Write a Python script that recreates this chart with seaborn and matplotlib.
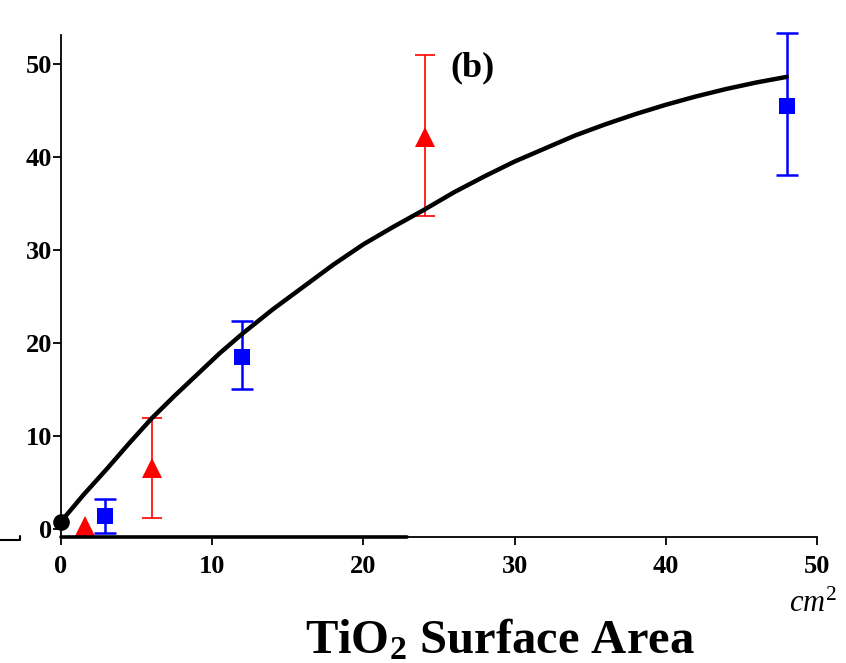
import numpy as np
import pandas as pd
import matplotlib
matplotlib.use("Agg")
import matplotlib.pyplot as plt
import seaborn as sns
from matplotlib.lines import Line2D

# fitted curve, points
curve_x = [0, 1.5, 3, 4.5, 6, 7.5, 9, 10.5, 12, 14, 16, 18, 20, 22, 24,
           26, 28, 30, 32, 34, 36, 38, 40, 42, 44, 46, 48]
curve_y = [0.8, 3.7, 6.4, 9.2, 11.9, 14.3, 16.6, 18.9, 21.0, 23.6, 26.0, 28.4, 30.6, 32.5, 34.3,
           36.2, 37.9, 39.5, 40.9, 42.3, 43.5, 44.6, 45.6, 46.5, 47.3, 48.0, 48.6]

# origin point
origin_x = [0]
origin_y = [0.78]

# red triangles (first one has no visible error bar)
red_x = [1.6, 6.0, 24.1]
red_y = [0.33, 6.6, 42.1]
red_lo = [None, 1.2, 33.6]
red_hi = [None, 11.9, 50.9]

# blue squares
blue_x = [2.9, 12.0, 48.0]
blue_y = [1.4, 18.5, 45.5]
blue_lo = [-0.4, 15.1, 38.1]
blue_hi = [3.2, 22.4, 53.3]

xticks = [0, 10, 20, 30, 40, 50]
yticks = [0, 10, 20, 30, 40, 50]

sns.set_style("ticks")
plt.rcParams['font.family'] = ['Liberation Serif', 'DejaVu Serif']
plt.rcParams['font.weight'] = 'bold'
plt.rcParams['text.color'] = 'black'
plt.rcParams['xtick.color'] = 'black'
plt.rcParams['ytick.color'] = 'black'
plt.rcParams['xtick.labelcolor'] = 'black'
plt.rcParams['ytick.labelcolor'] = 'black'
plt.rcParams['mathtext.fontset'] = 'custom'
plt.rcParams['mathtext.rm'] = 'Liberation Serif:weight=normal'
plt.rcParams['mathtext.it'] = 'Liberation Serif:style=italic:weight=normal'
plt.rcParams['mathtext.bf'] = 'Liberation Serif:weight=bold'

fig = plt.figure(figsize=(8.46, 6.63), dpi=100)
ax = fig.add_axes([0.0721, 0.190, 0.8936, 0.7572])

# error bars first so markers sit on top
rx = [x for x, lo in zip(red_x, red_lo) if lo is not None]
ry = [y for y, lo in zip(red_y, red_lo) if lo is not None]
rlo = [lo for lo in red_lo if lo is not None]
rhi = [hi for hi in red_hi if hi is not None]
red_err = [np.array(ry) - np.array(rlo), np.array(rhi) - np.array(ry)]
ax.errorbar(rx, ry, yerr=red_err, fmt='none', ecolor='red', elinewidth=1.2,
            capsize=7, capthick=1.2, clip_on=False, zorder=2)
blue_err = [np.array(blue_y) - np.array(blue_lo), np.array(blue_hi) - np.array(blue_y)]
ax.errorbar(blue_x, blue_y, yerr=blue_err, fmt='none', ecolor='blue', elinewidth=1.8,
            capsize=8, capthick=1.8, clip_on=False, zorder=2)

df_curve = pd.DataFrame({"x": curve_x, "y": curve_y})
sns.lineplot(data=df_curve, x="x", y="y", color='black', lw=3.2, ax=ax, zorder=3)

ax.plot(red_x, red_y, linestyle='none', marker='^', ms=15, color='red',
        markeredgewidth=0, clip_on=False, zorder=4)
ax.plot(blue_x, blue_y, linestyle='none', marker='s', ms=11, color='blue',
        markeredgewidth=0, clip_on=False, zorder=4)
ax.plot(origin_x, origin_y, linestyle='none', marker='o', ms=12, color='black',
        markeredgewidth=0, clip_on=False, zorder=5)

ax.set_xlim(0, 50)
ax.set_ylim(-0.86, 53.1)
ax.set_xticks(xticks)
ax.set_yticks(yticks)
ax.set_xlabel('')
ax.set_ylabel('')
sns.despine(ax=ax)
for s in ['left', 'bottom']:
    ax.spines[s].set_linewidth(1.3)
    ax.spines[s].set_color('black')
ax.tick_params(axis='both', labelsize=19, width=1.3, length=6, color='black',
               labelcolor='black', direction='out')
ax.tick_params(axis='x', pad=7)
ax.tick_params(axis='y', pad=0.5)
for lab in ax.get_xticklabels() + ax.get_yticklabels():
    lab.set_fontweight('bold')

# thicker stretch on the x axis
ax.plot([0, 22.9], [-0.86, -0.86], color='black', lw=2.6, clip_on=False, zorder=6)

ax.text(27.2, 49.6, '(b)', fontsize=26, fontweight='bold', ha='center', va='center')

fig.text(0.933, 0.077, r'$cm^2$', fontsize=22, ha='left', va='baseline')
fig.text(0.591, 0.015, r'TiO$_\mathbf{2}$ Surface Area', fontsize=35, fontweight='bold',
         ha='center', va='baseline')

# stray stub left of the axis
fig.add_artist(Line2D([0.0, 0.024, 0.024], [1 - 540 / 663, 1 - 540 / 663, 1 - 536 / 663],
                      color='black', lw=1.5))

fig.savefig('out.png', dpi=100)
